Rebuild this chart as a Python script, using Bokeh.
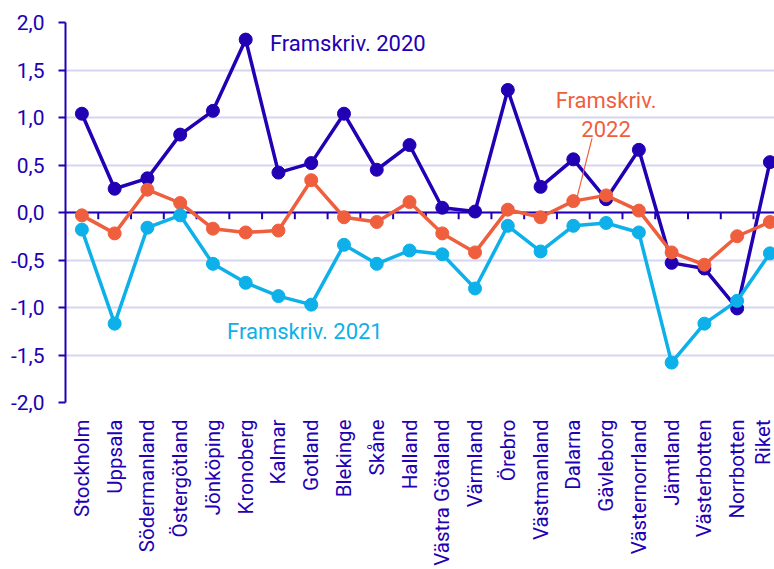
import math
from bokeh.plotting import figure
from bokeh.models import (FixedTicker, CustomJSTickFormatter, Span, Label, Range1d)
from bokeh.embed import file_html
from bokeh.resources import INLINE

regions = ["Stockholm", "Uppsala", "Södermanland", "Östergötland", "Jönköping",
           "Kronoberg", "Kalmar", "Gotland", "Blekinge", "Skåne", "Halland",
           "Västra Götaland", "Värmland", "Örebro", "Västmanland", "Dalarna",
           "Gävleborg", "Västernorrland", "Jämtland", "Västerbotten",
           "Norrbotten", "Riket"]

fram_2020 = [1.04, 0.25, 0.36, 0.82, 1.07, 1.82, 0.42, 0.52, 1.04, 0.45, 0.71,
             0.05, 0.01, 1.29, 0.27, 0.56, 0.14, 0.66, -0.53, -0.59, -1.01, 0.53]
fram_2021 = [-0.18, -1.17, -0.16, -0.03, -0.54, -0.74, -0.88, -0.97, -0.34,
             -0.54, -0.40, -0.44, -0.80, -0.14, -0.41, -0.14, -0.11, -0.21,
             -1.58, -1.17, -0.93, -0.43]
fram_2022 = [-0.03, -0.22, 0.24, 0.10, -0.17, -0.21, -0.19, 0.34, -0.05, -0.10,
             0.11, -0.22, -0.42, 0.03, -0.05, 0.12, 0.18, 0.02, -0.42, -0.55,
             -0.25, -0.10]
y_ticks = [-2.0, -1.5, -1.0, -0.5, 0.0, 0.5, 1.0, 1.5, 2.0]

DARK = "#2200B4"
LIGHT = "#0DB0E8"
ORANGE = "#EF5F3E"
GRID = "#D6D6F0"
FONT = "Roboto"
FS = "21px"
FS_X = "20.5px"
FS_ANN = "22px"

xs = list(range(len(regions)))

p = figure(width=774, height=569, output_backend="svg", toolbar_location=None,
           x_range=Range1d(-0.5, 21.14), y_range=Range1d(-2.0, 2.0),
           min_border_left=65, min_border_right=0, min_border_top=22,
           min_border_bottom=167)
p.outline_line_color = None
p.background_fill_color = "white"
p.border_fill_color = "white"

# grid
p.xgrid.grid_line_color = None
p.ygrid.grid_line_color = GRID
p.ygrid.grid_line_width = 2
p.ygrid.ticker = FixedTicker(ticks=y_ticks)

# y axis
yax = p.yaxis[0]
yax.ticker = FixedTicker(ticks=y_ticks)
yax.formatter = CustomJSTickFormatter(code="return tick.toFixed(1).replace('.', ',');")
yax.axis_line_color = DARK
yax.axis_line_width = 2
yax.major_tick_line_color = DARK
yax.major_tick_line_width = 2
yax.major_tick_out = 7
yax.major_tick_in = 0
yax.minor_tick_line_color = None
yax.major_label_text_color = DARK
yax.major_label_text_font = FONT
yax.major_label_text_font_size = FS
yax.major_label_standoff = 14

# x axis (labels only, at bottom)
xax = p.xaxis[0]
xax.ticker = FixedTicker(ticks=xs)
xax.major_label_overrides = {i: name for i, name in enumerate(regions)}
xax.major_label_orientation = math.pi / 2
xax.axis_line_color = None
xax.major_tick_line_color = None
xax.minor_tick_line_color = None
xax.major_label_text_color = DARK
xax.major_label_text_font = FONT
xax.major_label_text_font_size = FS_X
xax.major_label_standoff = 11

# zero line with category-boundary ticks
p.add_layout(Span(location=0, dimension="width", line_color=DARK,
                  line_width=2, level="underlay"))
bounds = [i + 0.5 for i in xs[:-1]]
p.segment(x0=bounds, y0=[0] * len(bounds), x1=bounds, y1=[-0.07] * len(bounds),
          line_color=DARK, line_width=2)

# series
for vals, col in [(fram_2020, DARK), (fram_2022, ORANGE), (fram_2021, LIGHT)]:
    p.line(xs, vals, line_color=col, line_width=3.5)
    p.scatter(xs, vals, size=13, fill_color=col, line_color=col)

# annotations
p.add_layout(Label(x=5.74, y=1.78, text="Framskriv. 2020", text_color=DARK,
                   text_font=FONT, text_font_size=FS_ANN, text_baseline="middle",
                   text_align="left"))
p.add_layout(Label(x=4.43, y=-1.25, text="Framskriv. 2021", text_color=LIGHT,
                   text_font=FONT, text_font_size=FS_ANN, text_baseline="middle",
                   text_align="left"))
p.add_layout(Label(x=16.0, y=1.18, text="Framskriv.", text_color=ORANGE,
                   text_font=FONT, text_font_size=FS_ANN, text_baseline="middle",
                   text_align="center"))
p.add_layout(Label(x=16.0, y=0.88, text="2022", text_color=ORANGE,
                   text_font=FONT, text_font_size=FS_ANN, text_baseline="middle",
                   text_align="center"))
p.segment(x0=[15.57], y0=[0.78], x1=[15.12], y1=[0.17],
          line_color=ORANGE, line_width=1.2)

open("out.html", "w").write(file_html(p, INLINE))
